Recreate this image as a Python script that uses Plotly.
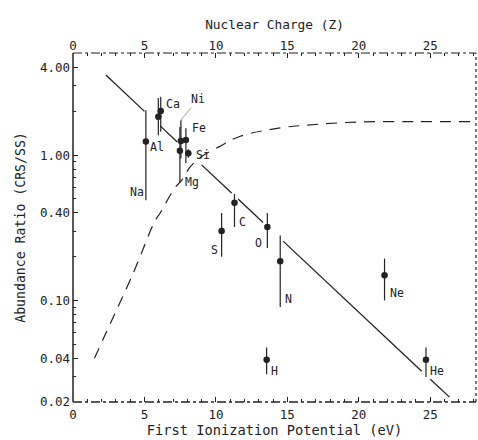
import math
import plotly.graph_objects as go

# ---- data ----
elements = ["Na", "Al", "Ca", "Ni", "Mg", "Fe", "Si", "S", "C", "O", "N", "H", "Ne", "He"]
fip = [5.10, 5.97, 6.14, 7.55, 7.48, 7.90, 8.07, 10.40, 11.30, 13.60, 14.50, 13.55, 21.80, 24.70]
ratio = [1.24, 1.84, 2.01, 1.25, 1.07, 1.27, 1.03, 0.30, 0.47, 0.32, 0.186, 0.039, 0.149, 0.039]
upper = [2.04, 2.47, 2.52, 1.74, 1.56, 1.53, 1.10, 0.40, 0.54, 0.40, 0.28, 0.0475, 0.194, 0.0475]
lower = [0.49, 1.37, 1.45, 0.95, 0.65, 0.88, 0.96, 0.20, 0.32, 0.23, 0.090, 0.031, 0.100, 0.0297]

# straight fit line (broken where it passes the data points)
fit_x = [2.3, 5.0, None, 6.1, 7.3, None, 9.0, 11.1, None, 11.55, 13.3, None, 14.7, 24.4, None, 25.0, 26.35]
fit_y = [3.56, 2.00, None, 1.59, 1.23, None, 0.857, 0.549, None, 0.499, 0.344, None, 0.256, 0.0326, None, 0.0287, 0.0216]

# dashed model curve
curve_x = [1.5, 2.6, 4.2, 5.75, 6.1, 7.1, 7.6, 8.2, 9.0, 10.2, 11.7, 14.5, 16.4, 19.9, 24.0, 27.8]
curve_y = [0.040, 0.069, 0.153, 0.355, 0.40, 0.59, 0.67, 0.83, 0.98, 1.14, 1.35, 1.54, 1.61, 1.69, 1.70, 1.70]

x_ticks = [0, 5, 10, 15, 20, 25]
z_ticks = [0, 5, 10, 15, 20, 25]
y_tickvals = [0.02, 0.04, 0.10, 0.40, 1.00, 4.00]
y_ticktext = ["0.02", "0.04", "0.10", "0.40", "1.00", "4.00"]

# ---- styling of labels (pixel offsets from each point) ----
label_style = {
    "Na": dict(xshift=-9, yshift=-50, xanchor="center"),
    "Al": dict(xshift=-1, yshift=-30, xanchor="center"),
    "Ca": dict(xshift=3, yshift=7, xanchor="left"),
    "Mg": dict(xshift=3, yshift=-31, xanchor="left"),
    "Fe": dict(xshift=4, yshift=12, xanchor="left"),
    "Si": dict(xshift=6, yshift=-2, xanchor="left"),
    "S": dict(xshift=-2, yshift=-19, xanchor="right"),
    "C": dict(xshift=3, yshift=-19, xanchor="left"),
    "O": dict(xshift=-3, yshift=-16, xanchor="right"),
    "N": dict(xshift=3, yshift=-38, xanchor="left"),
    "H": dict(xshift=2, yshift=-11, xanchor="left"),
    "Ne": dict(xshift=3, yshift=-18, xanchor="left"),
    "He": dict(xshift=2, yshift=-11, xanchor="left"),
}

INK = "#222222"
FONT = "DejaVu Sans Mono, Liberation Mono, monospace"

fig = go.Figure()

fig.add_trace(go.Scatter(
    x=curve_x, y=curve_y, mode="lines", line_shape="spline",
    line=dict(color=INK, width=1.2, dash="11px,8px"), hoverinfo="skip", showlegend=False))

fig.add_trace(go.Scatter(
    x=fit_x, y=fit_y, mode="lines", connectgaps=False,
    line=dict(color=INK, width=1.3), hoverinfo="skip", showlegend=False))

fig.add_trace(go.Scatter(
    x=fip, y=ratio, mode="markers", text=elements,
    marker=dict(color=INK, size=6.5),
    error_y=dict(type="data", symmetric=False,
                 array=[u - r for u, r in zip(upper, ratio)],
                 arrayminus=[r - l for r, l in zip(ratio, lower)],
                 width=0, thickness=1.2, color=INK),
    showlegend=False))

# invisible trace on the top (nuclear charge) axis
fig.add_trace(go.Scatter(x=[z_ticks[0]], y=[y_tickvals[0]], xaxis="x2", mode="markers",
                         marker=dict(opacity=0), hoverinfo="skip", showlegend=False))

# annotations on a log axis take log10 coordinates
for el, xv, yv in zip(elements, fip, ratio):
    if el in label_style:
        fig.add_annotation(x=xv, y=math.log10(yv), xref="x", yref="y", text=el, showarrow=False,
                           yanchor="middle", font=dict(family=FONT, size=11.5, color=INK),
                           **label_style[el])

ni = elements.index("Ni")
fig.add_annotation(x=fip[ni], y=math.log10(upper[ni]), xref="x", yref="y", text="Ni",
                   showarrow=True, arrowhead=0, arrowwidth=0.8, arrowcolor="#888888",
                   ax=17, ay=-21, font=dict(family=FONT, size=11.5, color=INK))

tick_font = dict(family=FONT, size=12.5, color=INK)
fig.update_layout(
    width=478, height=440,
    margin=dict(l=73, r=2, t=53, b=38),
    paper_bgcolor="white", plot_bgcolor="white",
    font=dict(family=FONT, color=INK),
    xaxis=dict(range=[0, 28.2], tickvals=x_ticks, ticks="inside", ticklen=5,
               tickcolor=INK, showgrid=False, zeroline=False, showline=False,
               tickfont=tick_font, automargin=False, ticklabelstandoff=3,
               minor=dict(dtick=1, ticks="inside", ticklen=3, tickcolor=INK),
               title=dict(text="First Ionization Potential (eV)",
                          font=dict(family=FONT, size=13.7, color=INK), standoff=4)),
    xaxis2=dict(range=[0, 28.2], tickvals=z_ticks, overlaying="x", side="top", anchor="y",
                ticks="inside", ticklen=5, tickcolor=INK, showgrid=False, zeroline=False,
                showline=False, tickfont=tick_font, automargin=False,
                minor=dict(dtick=1, ticks="inside", ticklen=3, tickcolor=INK),
                title=dict(text="Nuclear Charge (Z)",
                           font=dict(family=FONT, size=12.8, color=INK), standoff=5)),
    yaxis=dict(type="log", range=[-1.699, 0.703], tickvals=y_tickvals, ticktext=y_ticktext,
               ticks="inside", ticklen=5, tickcolor=INK, showgrid=False, zeroline=False,
               showline=False, tickfont=tick_font, automargin=False, ticklabelstandoff=2,
               minor=dict(tickvals=[0.03, 0.05, 0.06, 0.07, 0.08, 0.09, 0.2, 0.3, 0.5, 0.6,
                                    0.7, 0.8, 0.9, 2, 3], ticks="inside", ticklen=3, tickcolor=INK),
               title=dict(text="Abundance Ratio (CRS/SS)",
                          font=dict(family=FONT, size=13.2, color=INK), standoff=11)),
)

# frame: solid left side, dotted remaining sides (as in the printed figure)
fig.add_shape(type="line", xref="paper", yref="paper", x0=0, x1=0, y0=0, y1=1,
              line=dict(color=INK, width=1.5))
fig.add_shape(type="line", xref="paper", yref="paper", x0=0, x1=1, y0=0, y1=0,
              line=dict(color=INK, width=1.3, dash="dashdot"))
fig.add_shape(type="line", xref="paper", yref="paper", x0=0, x1=1, y0=1, y1=1,
              line=dict(color=INK, width=1.2, dash="dashdot"))
fig.add_shape(type="line", xref="paper", yref="paper", x0=1, x1=1, y0=0, y1=1,
              line=dict(color=INK, width=1.2, dash="dot"))

# remove the browser's default 8px page margin so the figure fills the window
fig.write_html("out.html", config={"displayModeBar": False},
               post_script="document.body.style.margin='0';")
